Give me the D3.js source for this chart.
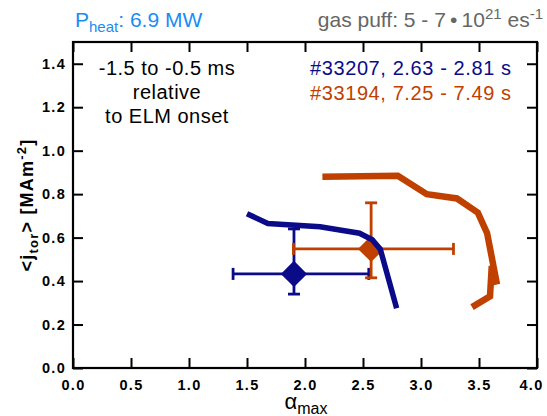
<!DOCTYPE html>
<html>
<head>
<meta charset="utf-8">
<script src="https://cdn.jsdelivr.net/npm/d3@7"></script>
<style>
  body { margin: 0; background: #fff; }
  svg { font-family: "Liberation Sans", Arial, Helvetica, sans-serif; }
</style>
</head>
<body>
<div id="main"></div>
<script>
// traces: alpha_max vs <j_tor>
var alpha33207 = [1.50, 1.68, 2.13, 2.30, 2.47, 2.58, 2.65, 2.79];
var jtor33207  = [0.71, 0.665, 0.65, 0.635, 0.62, 0.59, 0.545, 0.275];

var alpha33194 = [2.15, 2.80, 3.05, 3.31, 3.49, 3.57, 3.655, 3.61, 3.595, 3.44];
var jtor33194  = [0.88, 0.885, 0.80, 0.78, 0.715, 0.62, 0.385, 0.47, 0.33, 0.28];

// mean points with error bar ends, one entry per shot (33207, 33194)
var shotNames = ["#33207, 2.63 - 2.81 s", "#33194, 7.25 - 7.49 s"];
var meanAlpha = [1.905, 2.57];
var alphaLow  = [1.38, 1.90];
var alphaHigh = [2.55, 3.28];
var meanJtor  = [0.433, 0.548];
var jtorLow   = [0.34, 0.415];
var jtorHigh  = [0.64, 0.76];

var xTicks = [0, 0.5, 1, 1.5, 2, 2.5, 3, 3.5, 4];
var yTicks = [0, 0.2, 0.4, 0.6, 0.8, 1.0, 1.2, 1.4];

var colors = ["#0b0b8a", "#c04000"];

var margin = {top: 42, right: 10, bottom: 48, left: 73},
  width = 547 - margin.left - margin.right,
  height = 416 - margin.top - margin.bottom;

var root = d3.select("#main")
  .append("svg")
  .attr("width", 547)
  .attr("height", 416);

var svg = root.append("g")
  .attr("transform", "translate(" + margin.left + "," + margin.top + ")");

var x = d3.scaleLinear().domain([0, 4]).range([0, width]);
var y = d3.scaleLinear().domain([0, 1.5]).range([height, 0]);

// axes, ticks pointing inward on all four sides
function styleAxis(g) {
  g.select(".domain").remove();
  g.selectAll(".tick line").attr("stroke", "#000").attr("stroke-width", 2);
  g.selectAll(".tick text")
    .attr("fill", "#000")
    .style("font-size", "14.5px")
    .style("font-weight", "bold")
    .style("letter-spacing", "1.3px")
    .style("font-family", "'Liberation Sans', Arial, sans-serif");
}

svg.append("g")
  .attr("transform", "translate(0," + height + ")")
  .call(d3.axisBottom(x).tickValues(xTicks).tickSize(-10).tickSizeOuter(0)
    .tickPadding(12).tickFormat(d3.format(".1f")))
  .call(styleAxis)
  .selectAll(".tick text")
  .filter(function (d) { return d === 4; })
  .attr("dx", -6);   // last label is pulled in to stay on the page

svg.append("g")
  .call(d3.axisLeft(y).tickValues(yTicks).tickSize(-10).tickSizeOuter(0)
    .tickPadding(7).tickFormat(d3.format(".1f")))
  .call(styleAxis);

svg.append("g")
  .call(d3.axisTop(x).tickValues(xTicks).tickSize(-10).tickSizeOuter(0).tickFormat(""))
  .call(styleAxis);

svg.append("g")
  .attr("transform", "translate(" + width + ",0)")
  .call(d3.axisRight(y).tickValues(yTicks).tickSize(-10).tickSizeOuter(0).tickFormat(""))
  .call(styleAxis);

svg.append("rect")
  .attr("width", width)
  .attr("height", height)
  .attr("fill", "none")
  .attr("stroke", "#000")
  .attr("stroke-width", 2.2);

// traces
var line = d3.line()
  .x(function (d) { return x(d[0]); })
  .y(function (d) { return y(d[1]); });

var trace33207 = d3.zip(alpha33207, jtor33207);
var trace33194 = d3.zip(alpha33194, jtor33194);

svg.append("path")
  .datum(trace33194)
  .attr("d", line)
  .attr("fill", "none")
  .attr("stroke", colors[1])
  .attr("stroke-width", 6.5)
  .attr("stroke-linejoin", "miter");

// error bars + diamonds
var cap = 6;
[0, 1].forEach(function (i) {
  var g = svg.append("g")
    .attr("stroke", colors[i])
    .attr("stroke-width", 2.8)
    .attr("fill", "none");
  var cx = x(meanAlpha[i]), cy = y(meanJtor[i]);
  g.append("line").attr("x1", x(alphaLow[i])).attr("x2", x(alphaHigh[i])).attr("y1", cy).attr("y2", cy);
  g.append("line").attr("x1", cx).attr("x2", cx).attr("y1", y(jtorLow[i])).attr("y2", y(jtorHigh[i]));
  g.append("line").attr("x1", x(alphaLow[i])).attr("x2", x(alphaLow[i])).attr("y1", cy - cap).attr("y2", cy + cap);
  g.append("line").attr("x1", x(alphaHigh[i])).attr("x2", x(alphaHigh[i])).attr("y1", cy - cap).attr("y2", cy + cap);
  g.append("line").attr("x1", cx - cap).attr("x2", cx + cap).attr("y1", y(jtorLow[i])).attr("y2", y(jtorLow[i]));
  g.append("line").attr("x1", cx - cap).attr("x2", cx + cap).attr("y1", y(jtorHigh[i])).attr("y2", y(jtorHigh[i]));
  svg.append("path")
    .attr("d", d3.symbol(d3.symbolSquare, 345)())
    .attr("transform", "translate(" + cx + "," + cy + ") rotate(45)")
    .attr("fill", colors[i]);
});

svg.append("path")
  .datum(trace33207)
  .attr("d", line)
  .attr("fill", "none")
  .attr("stroke", colors[0])
  .attr("stroke-width", 5.5)
  .attr("stroke-linejoin", "miter");

// legend / annotation text
shotNames.forEach(function (s, i) {
  root.append("text")
    .attr("x", 310)
    .attr("y", 75 + i * 25)
    .attr("fill", colors[i])
    .style("font-size", "20px")
    .style("letter-spacing", "0.6px")
    .text(s);
});

var note = ["-1.5 to -0.5 ms", "relative", "to ELM onset"];
note.forEach(function (s, i) {
  root.append("text")
    .attr("x", 167)
    .attr("y", 75 + i * 24)
    .attr("text-anchor", "middle")
    .attr("fill", "#000")
    .style("font-size", "20px")
    .style("letter-spacing", "0.5px")
    .text(s);
});

// header
var ph = root.append("text")
  .attr("x", 75).attr("y", 27)
  .attr("fill", "#1a8cf5")
  .style("font-size", "21px");
ph.append("tspan").text("P");
ph.append("tspan").attr("dy", 5).style("font-size", "15px").text("heat");
ph.append("tspan").attr("dy", -5).text(": 6.9 MW");

var gp = root.append("text")
  .attr("x", 543).attr("y", 27)
  .attr("text-anchor", "end")
  .attr("fill", "#666")
  .style("font-size", "21px");
gp.append("tspan").text("gas puff: 5 - 7\u202F\u2022\u202F10");
gp.append("tspan").attr("dy", -8).style("font-size", "15px").text("21");
gp.append("tspan").attr("dy", 8).text(" es");
gp.append("tspan").attr("dy", -8).style("font-size", "15px").text("-1");

// axis titles
var xl = root.append("text")
  .attr("x", 306).attr("y", 409)
  .attr("text-anchor", "middle")
  .attr("fill", "#000")
  .style("font-size", "22px");
xl.append("tspan").text("\u03B1");
xl.append("tspan").attr("dy", 5).style("font-size", "16px").text("max");

var yl = root.append("text")
  .attr("transform", "translate(33,205) rotate(-90)")
  .attr("text-anchor", "middle")
  .attr("fill", "#000")
  .style("font-size", "18px")
  .style("font-weight", "bold")
  .style("letter-spacing", "1.2px");
yl.append("tspan").text("<j");
yl.append("tspan").attr("dy", 5).style("font-size", "13px").text("tor");
yl.append("tspan").attr("dy", -5).text("> [MAm");
yl.append("tspan").attr("dy", -7).style("font-size", "13px").text("-2");
yl.append("tspan").attr("dy", 7).text("]");
</script>
</body>
</html>
